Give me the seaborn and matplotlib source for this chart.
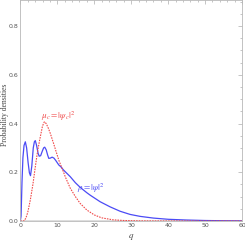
# Wahrscheinlichkeitsdichten rho = |psi|^2 und mu_c = |psi_c|^2 ueber q
import matplotlib
matplotlib.use("Agg")
import matplotlib.pyplot as plt
from matplotlib.ticker import MultipleLocator
import pandas as pd
import seaborn as sns

# Werte
q_rho = [0.0, 0.2, 0.45, 0.7, 1.0, 1.35, 1.7, 2.1, 2.45, 2.75, 3.1, 3.5, 3.8, 4.05,
         4.4, 4.8, 5.1, 5.5, 5.9, 6.3, 6.6, 7.0, 7.4, 7.7, 8.1, 8.6, 9.1, 9.6, 10.4,
         11.0, 11.7, 12.5, 13.5, 14.9, 16.2, 18.0, 18.9, 20.0, 21.6, 24.3, 27.0,
         29.7, 32.4, 36.0, 40.0, 45.0, 50.0, 55.0, 60.0]
rho = [0.0, 0.02, 0.16, 0.26, 0.31, 0.325, 0.30, 0.24, 0.198, 0.186, 0.225, 0.30, 0.325, 0.33,
       0.31, 0.278, 0.266, 0.268, 0.285, 0.30, 0.303, 0.292, 0.27, 0.257, 0.258, 0.262, 0.258, 0.248, 0.23,
       0.222, 0.209, 0.197, 0.182, 0.157, 0.138, 0.116, 0.106, 0.095, 0.079, 0.058, 0.040,
       0.027, 0.019, 0.012, 0.007, 0.004, 0.002, 0.001, 0.0005]

q_mu = [0.0, 1.0, 1.5, 2.0, 2.7, 3.4, 4.05, 4.7, 5.4, 6.0, 6.5, 7.0, 7.6, 8.1, 9.0,
        10.4, 11.5, 12.2, 13.5, 14.9, 16.2, 18.0, 20.0, 22.0, 25.0, 28.0, 32.0, 40.0, 60.0]
mu = [0.0, 0.0, 0.012, 0.035, 0.086, 0.15, 0.222, 0.29, 0.345, 0.39, 0.407, 0.40, 0.38, 0.36, 0.318,
      0.25, 0.208, 0.18, 0.135, 0.10, 0.072, 0.045, 0.025, 0.013, 0.005, 0.002, 0.0005, 0.0, 0.0]

x_ticks = [0, 10, 20, 30, 40, 50, 60]
y_ticks = [0.0, 0.2, 0.4, 0.6, 0.8]

blue = "#4b4bf5"
red = "#f04848"
grey = "#9a9a9a"


def make_plot():
    sns.set_style("white")
    plt.rcParams["mathtext.fontset"] = "stix"

    fig = plt.figure(figsize=(2.45, 2.41), dpi=100)
    ax = fig.add_axes([0.083, 0.083, 0.905, 0.915])

    df_rho = pd.DataFrame({"q": q_rho, "p": rho})
    df_mu = pd.DataFrame({"q": q_mu, "p": mu})
    sns.lineplot(data=df_rho, x="q", y="p", ax=ax, color=blue, lw=0.9, sort=False)
    sns.lineplot(data=df_mu, x="q", y="p", ax=ax, color=red, lw=0.8, sort=False,
                 linestyle=(0, (1.4, 1.0)))

    ax.axhline(0, color="#d8d8d8", lw=1.2, zorder=0)

    ax.set_xlim(0, 60)
    ax.set_ylim(0, 0.905)
    ax.set_xticks(x_ticks)
    ax.set_yticks(y_ticks)
    ax.set_xticklabels([str(t) for t in x_ticks])
    ax.set_yticklabels([f"{t:.1f}" for t in y_ticks])
    ax.xaxis.set_minor_locator(MultipleLocator(2))
    ax.yaxis.set_minor_locator(MultipleLocator(0.05))
    ax.tick_params(which="both", direction="in", top=True, right=True, colors=grey,
                   labelcolor="#555555", labelsize=4.5, width=0.4, pad=1.2)
    ax.tick_params(which="major", length=3)
    ax.tick_params(which="minor", length=1.5)
    for s in ax.spines.values():
        s.set_color("#b8b8b8")
        s.set_linewidth(0.6)

    ax.set_xlabel(r"$q$", fontsize=6.5, color="#444444", labelpad=3)
    ax.set_ylabel("Probability densities", fontsize=5.5, color="#444444",
                  family="Liberation Serif")
    ax.yaxis.set_label_coords(-0.052, 0.48)

    ax.text(5.6, 0.43, r"$\mu_c = |\psi_c|^2$", color=red, fontsize=6.5, va="center")
    ax.text(15.3, 0.135, r"$\rho = |\psi|^2$", color=blue, fontsize=6.5, va="center")

    fig.savefig("out.png", dpi=100)


if __name__ == "__main__":
    make_plot()
